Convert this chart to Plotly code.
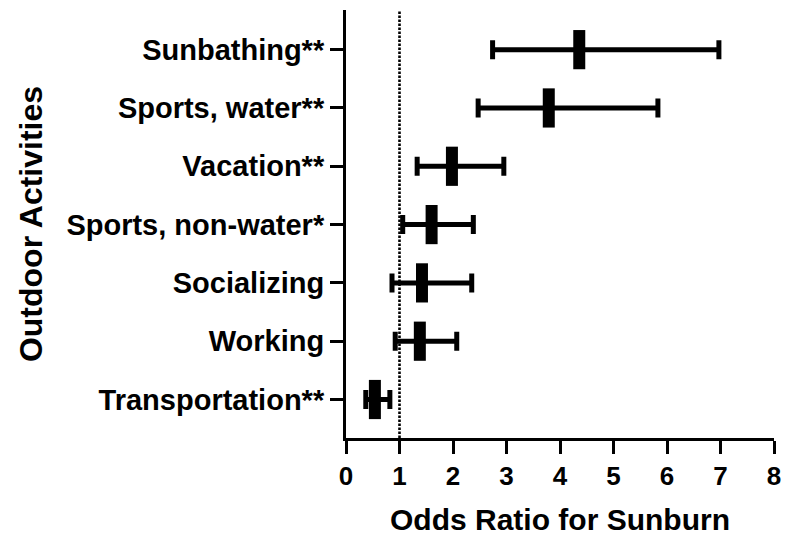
import plotly.graph_objects as go

activities = ["Transportation**", "Working", "Socializing", "Sports, non-water*",
              "Vacation**", "Sports, water**", "Sunbathing**"]
odds_ratio = [0.54, 1.38, 1.42, 1.60, 1.98, 3.79, 4.36]
ci_lower = [0.37, 0.92, 0.86, 1.06, 1.33, 2.47, 2.74]
ci_upper = [0.82, 2.07, 2.35, 2.38, 2.95, 5.83, 6.97]
x_ticks = [0, 1, 2, 3, 4, 5, 6, 7, 8]

err_plus = [u - c for u, c in zip(ci_upper, odds_ratio)]
err_minus = [c - l for c, l in zip(odds_ratio, ci_lower)]
ypos = list(range(len(activities)))

font_family = "Arial, Liberation Sans, sans-serif"

fig = go.Figure()
fig.add_trace(go.Scatter(
    x=odds_ratio, y=ypos, mode="markers",
    marker=dict(symbol="line-ns", size=28, color="black",
                line=dict(width=12, color="black")),
    error_x=dict(type="data", symmetric=False, array=err_plus, arrayminus=err_minus,
                 color="black", thickness=5, width=9.5),
    showlegend=False, cliponaxis=False,
))

fig.add_shape(type="line", xref="x", yref="paper", x0=1, x1=1, y0=0, y1=1,
              line=dict(color="black", width=2.6, dash="2.5px,1.5px"))

fig.update_layout(
    width=785, height=537,
    margin=dict(l=346, r=11, t=10, b=99, autoexpand=False),
    plot_bgcolor="white", paper_bgcolor="white",
    font=dict(family=font_family, color="black"),
    xaxis=dict(range=[0, 8], tickvals=x_ticks, showgrid=False, zeroline=False,
               automargin=False,
               showline=True, linecolor="black", linewidth=3,
               ticks="outside", ticklen=13, tickwidth=3, tickcolor="black",
               tickfont=dict(size=26, weight="bold"),
               title=dict(text="Odds Ratio for Sunburn", font=dict(size=30, weight="bold"),
                          standoff=19)),
    yaxis=dict(range=[-0.66, 6.68], tickvals=ypos, ticktext=activities,
               showgrid=False, zeroline=False, automargin=False,
               showline=True, linecolor="black", linewidth=3,
               ticks="outside", ticklen=13, tickwidth=3, tickcolor="black",
               tickfont=dict(size=29, weight="bold"),
               title=dict(text="Outdoor Activities", font=dict(size=32, weight="bold"))),
)

fig.write_html("out.html", config={"displayModeBar": False},
               post_script="document.body.style.margin='0';")
